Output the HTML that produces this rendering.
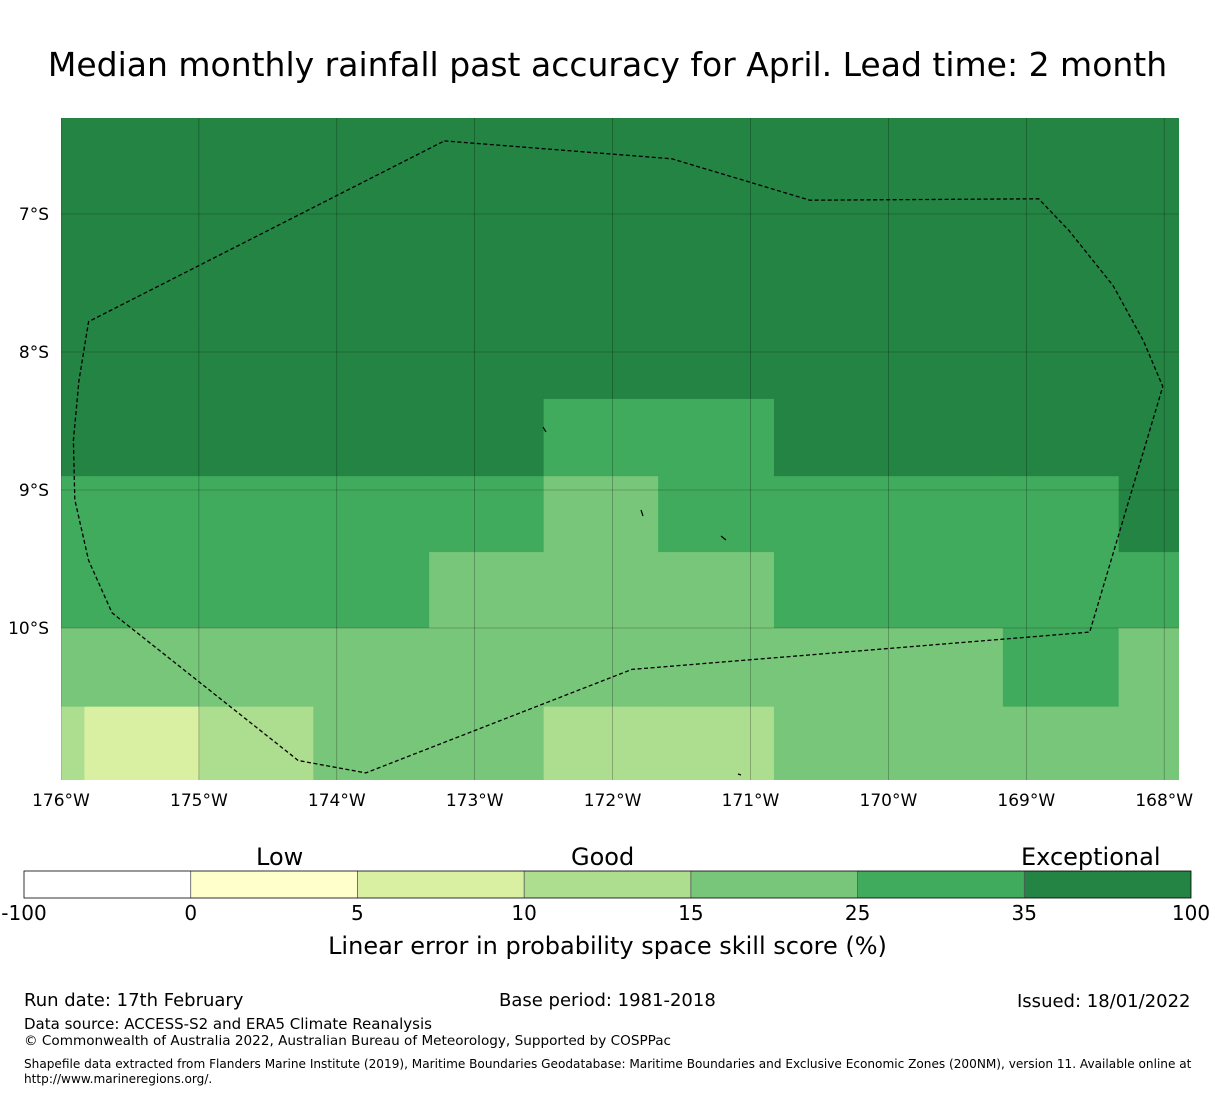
<!DOCTYPE html>
<html><head><meta charset="utf-8"><style>
body{margin:0;background:#fff;font-family:"DejaVu Sans","Liberation Sans",sans-serif;}
#root{position:relative;width:1215px;height:1095px;overflow:hidden;}
.t{position:absolute;white-space:nowrap;color:#000;}
</style></head><body>
<div id="root">
<div class="t" style="left:0;width:1215px;text-align:center;top:45px;font-size:33px;">Median monthly rainfall past accuracy for April. Lead time: 2 month</div>
<svg id="map" width="1215" height="1095" style="position:absolute;left:0;top:0"></svg>
<div class="t" style="left:256px;top:843px;font-size:24px;">Low</div>
<div class="t" style="left:571px;top:843px;font-size:24px;">Good</div>
<div class="t" style="left:1021px;top:843px;font-size:24px;">Exceptional</div>
<div class="t" style="left:0;width:1215px;text-align:center;top:932px;font-size:24px;">Linear error in probability space skill score (%)</div>
<div class="t" style="left:24px;top:990px;font-size:18px;">Run date: 17th February</div>
<div class="t" style="left:499px;top:990px;font-size:18px;">Base period: 1981-2018</div>
<div class="t" style="left:1017px;top:991px;font-size:18px;">Issued: 18/01/2022</div>
<div class="t" style="left:24px;top:1015px;font-size:15px;">Data source: ACCESS-S2 and ERA5 Climate Reanalysis</div>
<div class="t" style="left:24px;top:1033px;font-size:13.6px;">© Commonwealth of Australia 2022, Australian Bureau of Meteorology, Supported by COSPPac</div>
<div class="t" style="left:24px;top:1057px;font-size:12.1px;line-height:15px;white-space:normal;width:1185px;">Shapefile data extracted from Flanders Marine Institute (2019), Maritime Boundaries Geodatabase: Maritime Boundaries and Exclusive Economic Zones (200NM), version 11. Available online at http://www.marineregions.org/.</div>
</div>
<script>
// Grid cell skill values (%), rows top to bottom, cols left to right
const gridRows = [
 [40,40,40,40,40,40,40,40,40,40,40],
 [40,40,40,40,40,40,40,40,40,40,40],
 [40,40,40,40,40,40,40,40,40,40,40],
 [40,40,40,40,40,40,40,40,40,40,40],
 [40,40,40,40,40,30,30,40,40,40,40],
 [30,30,30,30,30,20,30,30,30,30,40],
 [30,30,30,30,20,20,20,30,30,30,30],
 [20,20,20,20,20,20,20,20,20,30,20],
 [12,7,12,20,20,12,12,20,20,20,20]
];
const colLons = [-176.19,-175.83,-175.0,-174.17,-173.33,-172.5,-171.67,-170.83,-170.0,-169.17,-168.33,-167.89];
const rowLats = [-6.12,-6.67,-7.23,-7.79,-8.34,-8.90,-9.45,-10.0,-10.57,-11.13];
const lonTicks = [-176,-175,-174,-173,-172,-171,-170,-169,-168];
const latTicks = [-7,-8,-9,-10];
const cbBounds = [-100,0,5,10,15,25,35,100];
const cbColors = ["#ffffff","#ffffcc","#d9f0a3","#addd8e","#78c679","#41ab5d","#238443"];
const eezLon = [-173.22,-171.57,-170.57,-168.91,-168.69,-168.37,-168.15,-168.01,-168.54,-171.86,-173.79,-174.28,-175.63,-175.80,-175.90,-175.91,-175.87,-175.80,-173.22];
const eezLat = [-6.47,-6.60,-6.90,-6.89,-7.12,-7.52,-7.92,-8.25,-10.03,-10.30,-11.05,-10.96,-9.89,-9.51,-9.07,-8.64,-8.21,-7.78,-6.47];

const X0=61,X1=1179,Y0=118,Y1=780;
const pxPerDeg=137.9;
const xs=lon=>61+(lon+176)*pxPerDeg;
const ys=lat=>214+(-7-lat)*138;
const svg=document.getElementById('map');
const NS='http://www.w3.org/2000/svg';
function mk(tag,at){const e=document.createElementNS(NS,tag);for(const k in at)e.setAttribute(k,at[k]);svg.appendChild(e);return e;}
function colorFor(v){for(let i=0;i<cbColors.length;i++){if(v<cbBounds[i+1])return cbColors[i];}return cbColors[cbColors.length-1];}
const cp=mk('clipPath',{id:'clp'});
const cr=document.createElementNS(NS,'rect');cr.setAttribute('x',X0);cr.setAttribute('y',Y0);cr.setAttribute('width',X1-X0);cr.setAttribute('height',Y1-Y0);cp.appendChild(cr);
const g=mk('g',{'clip-path':'url(#clp)'});
gridRows.forEach((row,r)=>row.forEach((v,c)=>{
 const x=xs(colLons[c]),x2=xs(colLons[c+1]),y=ys(rowLats[r]),y2=ys(rowLats[r+1]);
 const e=document.createElementNS(NS,'rect');
 e.setAttribute('x',x);e.setAttribute('y',y);e.setAttribute('width',x2-x+0.5);e.setAttribute('height',y2-y+0.5);e.setAttribute('fill',colorFor(v));
 
 
 g.appendChild(e);
}));
lonTicks.forEach(l=>{const x=xs(l);
 const ln=document.createElementNS(NS,'line');ln.setAttribute('x1',x);ln.setAttribute('x2',x);ln.setAttribute('y1',Y0);ln.setAttribute('y2',Y1);ln.setAttribute('stroke','#000');ln.setAttribute('stroke-opacity','0.4');ln.setAttribute('stroke-width','0.6');
 
 
 g.appendChild(ln);
 const t=mk('text',{x:x,y:806,'font-size':17,'text-anchor':'middle','font-family':'DejaVu Sans, sans-serif'});t.textContent=(-l)+'°W';
 
 
});
latTicks.forEach(l=>{const y=ys(l);
 const ln=document.createElementNS(NS,'line');ln.setAttribute('x1',X0);ln.setAttribute('x2',X1);ln.setAttribute('y1',y);ln.setAttribute('y2',y);ln.setAttribute('stroke','#000');ln.setAttribute('stroke-opacity','0.4');ln.setAttribute('stroke-width','0.6');
 
 
 g.appendChild(ln);
 const t=mk('text',{x:49,y:y+6,'font-size':17,'text-anchor':'end','font-family':'DejaVu Sans, sans-serif'});t.textContent=(-l)+'°S';
 
 
});
const pts=eezLon.map((l,i)=>xs(l).toFixed(1)+','+ys(eezLat[i]).toFixed(1)).join(' ');
const pl=document.createElementNS(NS,'polyline');pl.setAttribute('points',pts);pl.setAttribute('fill','none');pl.setAttribute('stroke','#000');pl.setAttribute('stroke-width','1.3');pl.setAttribute('stroke-dasharray','4,2.5');


g.appendChild(pl);
[[543,427,546,432],[641,510,643,516],[721,536,726,540],[738,774,741,775]].forEach(a=>{
 const ln=document.createElementNS(NS,'line');ln.setAttribute('x1',a[0]);ln.setAttribute('y1',a[1]);ln.setAttribute('x2',a[2]);ln.setAttribute('y2',a[3]);ln.setAttribute('stroke','#000');ln.setAttribute('stroke-width','1.2');
 
 
 g.appendChild(ln);
});
// colorbar
const cbX0=24,cbX1=1191,cbY=871,cbH=27,segW=(cbX1-cbX0)/cbColors.length;
cbColors.forEach((c,i)=>{
 const r=mk('rect',{x:cbX0+i*segW,y:cbY,width:segW,height:cbH,fill:c});
 
 
 if(i>0){const s=mk('line',{x1:cbX0+i*segW,x2:cbX0+i*segW,y1:cbY,y2:cbY+cbH,stroke:'#555','stroke-width':0.8});
 
 }
});
const ob=mk('rect',{x:cbX0,y:cbY,width:cbX1-cbX0,height:cbH,fill:'none',stroke:'#000','stroke-width':0.8});


cbBounds.forEach((b,i)=>{
 const t=mk('text',{x:cbX0+i*segW,y:920,'font-size':20,'text-anchor':'middle','font-family':'DejaVu Sans, sans-serif'});t.textContent=b;
 
 
});
</script>
</body></html>
